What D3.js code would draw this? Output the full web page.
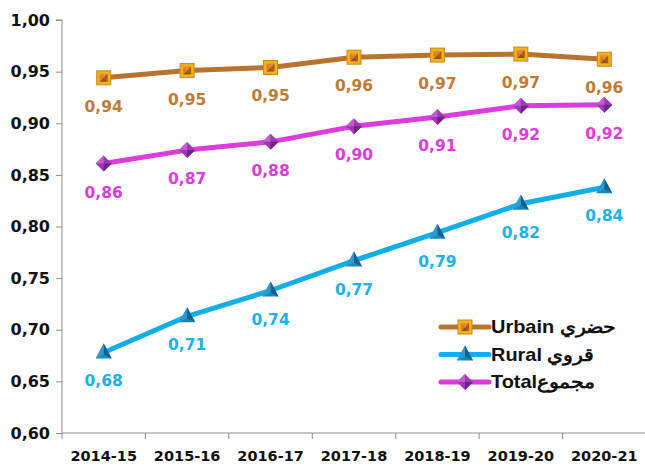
<!DOCTYPE html>
<html lang="fr">
<head>
<meta charset="utf-8">
<title>Urbain / Rural / Total</title>
<style>
body { margin: 0; background: #fff; }
.axis path, .axis line { stroke: #8c8c8c; fill: none; }
.axis text { font-family: "DejaVu Sans", Verdana, sans-serif; font-weight: bold; fill: #111; }
.val { font-family: "DejaVu Sans", Verdana, sans-serif; font-weight: bold; font-size: 15.5px; text-anchor: middle; }
.leg { font-family: "Liberation Sans", Arial, sans-serif; font-weight: bold; font-size: 17.5px; fill: #111; }
</style>
</head>
<body>
<div id="chart"></div>
<script src="https://d3js.org/d3.v7.min.js"></script>
<script>
var years = ["2014-15", "2015-16", "2016-17", "2017-18", "2018-19", "2019-20", "2020-21"];
var urbain = [0.944, 0.951, 0.954, 0.964, 0.966, 0.967, 0.962];
var rural  = [0.678, 0.713, 0.738, 0.767, 0.794, 0.822, 0.838];
var total  = [0.861, 0.874, 0.882, 0.897, 0.906, 0.917, 0.918];
var yTicks = [0.60, 0.65, 0.70, 0.75, 0.80, 0.85, 0.90, 0.95, 1.00];
var legendNames = ["Urbain حضري", "Rural قروي", "Totalمجموع"];

var series = [
  {name: legendNames[0], values: urbain, line: "#b8742f", label: "#bf7b35", shape: "square"},
  {name: legendNames[1], values: rural, line: "#12aee8", label: "#1fb0ea", shape: "triangle"},
  {name: legendNames[2], values: total, line: "#dc3cdc", label: "#dc3cdc", shape: "diamond"}
];

var svg = d3.select("#chart").append("svg").attr("width", 645).attr("height", 469);
var margin = {top: 20, right: 0, bottom: 36, left: 62};
var width = 646 - margin.left;
var height = 433 - margin.top;
var g = svg.append("g").attr("transform", "translate(" + margin.left + "," + margin.top + ")");

var x = d3.scaleBand().domain(years).range([0, width]);
var y = d3.scaleLinear().domain([0.6, 1.0]).range([height, 0]);
var fmt = function(v) { return v.toFixed(2).replace(".", ","); };
var cx = function(i) { return x(years[i]) + x.bandwidth() / 2; };

// y axis
var ya = g.append("g").attr("class", "axis")
  .call(d3.axisLeft(y).tickValues(yTicks).tickFormat(fmt).tickSize(6).tickPadding(6));
ya.selectAll("text").style("font-size", "16px");
ya.select(".domain").attr("d", "M0," + height + "V0H-6");

// x axis: labels centred, ticks at band edges
var xa = g.append("g").attr("class", "axis").attr("transform", "translate(0," + height + ")")
  .call(d3.axisBottom(x).tickSize(0).tickPadding(18));
xa.selectAll("text").style("font-size", "14.5px");
xa.select(".domain").attr("d", "M0,0H" + width);
xa.selectAll(".edge").data(d3.range(years.length + 1)).enter()
  .append("line").attr("class", "edge")
  .attr("x1", function(i) { return i * x.step(); })
  .attr("x2", function(i) { return i * x.step(); })
  .attr("y1", 0).attr("y2", 6);

function marker(sel, shape) {
  if (shape === "square") {
    sel.append("rect").attr("x", -7).attr("y", -7).attr("width", 14).attr("height", 14)
      .attr("fill", "#f2b21f").attr("stroke", "#c98a12").attr("stroke-width", 1);
    sel.append("path").attr("d", "M-4,-4L4,-4L0,0Z").attr("fill", "#e08a3a");
    sel.append("path").attr("d", "M4,-4L4,4L0,0Z").attr("fill", "#a85a20");
    sel.append("path").attr("d", "M-4,4L4,4L0,0Z").attr("fill", "#9a4e18");
    sel.append("path").attr("d", "M-4,-4L-4,4L0,0Z").attr("fill", "#d87a30");
  } else if (shape === "triangle") {
    sel.append("path").attr("d", "M0,-9L8,6L-8,6Z").attr("fill", "#1e86bd");
    sel.append("path").attr("d", "M0,-9L8,6L0,2Z").attr("fill", "#15608c");
    sel.append("path").attr("d", "M0,-9L-8,6L0,2Z").attr("fill", "#2a9ad0");
  } else {
    sel.append("path").attr("d", "M0,-8L8,0L0,8L-8,0Z").attr("fill", "#9b3ab0");
    sel.append("path").attr("d", "M0,-8L-8,0L0,0Z").attr("fill", "#c45ad6");
    sel.append("path").attr("d", "M0,8L8,0L0,0Z").attr("fill", "#6e2585");
  }
}

var line = d3.line().x(function(d, i) { return cx(i); }).y(function(d) { return y(d); });

series.forEach(function(s) {
  g.append("path").datum(s.values).attr("d", line)
    .attr("fill", "none").attr("stroke", s.line).attr("stroke-width", 5)
    .attr("stroke-linejoin", "round");
});

series.forEach(function(s) {
  s.values.forEach(function(v, i) {
    var m = g.append("g").attr("transform", "translate(" + cx(i) + "," + y(v) + ")");
    marker(m, s.shape);
  });
  g.selectAll(null).data(s.values).enter().append("text")
    .attr("class", "val")
    .attr("x", function(d, i) { return cx(i); })
    .attr("y", function(d) { return y(d) + 34; })
    .attr("fill", s.label)
    .text(fmt);
});

// legend
var lg = svg.append("g").attr("transform", "translate(441,327)");
series.forEach(function(s, i) {
  var row = lg.append("g").attr("transform", "translate(0," + (i * 27.5) + ")");
  row.append("line").attr("x1", 0).attr("x2", 48).attr("y1", 0).attr("y2", 0)
    .attr("stroke", s.line).attr("stroke-width", 5).attr("stroke-linecap", "round");
  var m = row.append("g").attr("transform", "translate(24,0)");
  marker(m, s.shape);
  row.append("text").attr("class", "leg")
    .attr("transform", "translate(50,6) scale(1.14,1)")
    .attr("direction", "ltr").text(s.name);
});
</script>
</body>
</html>
